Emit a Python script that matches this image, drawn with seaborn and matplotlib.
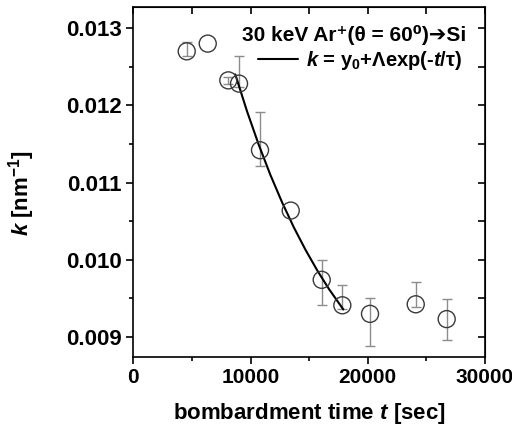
import matplotlib
matplotlib.use("Agg")
import matplotlib.pyplot as plt
import seaborn as sns
import pandas as pd
import numpy as np

t_sec = [4555, 6347, 8104, 9016, 10807, 13426, 16070, 17828, 20190, 24090, 26730]
k_val = [0.01270, 0.01280, 0.012324, 0.012282, 0.011419, 0.010637,
         0.009740, 0.009410, 0.009299, 0.009423, 0.009231]
err_lo = [0.00006, np.nan, 0.00005, 0.00005, 0.00021, np.nan,
          0.00033, 0.00005, 0.00041, 0.00004, 0.00027]
err_hi = [0.00012, np.nan, 0.00005, 0.000355, 0.00049, np.nan,
          0.00026, 0.000266, 0.00021, 0.000295, 0.000256]

# fitted curve k = y0 + A exp(-t/tau)
fit_t = [8700, 9700, 10700, 11700, 12700, 13700, 14700, 15700, 16700, 17913]
fit_k = [0.012401, 0.011923, 0.011489, 0.011096, 0.010740, 0.010417,
         0.010125, 0.009859, 0.009618, 0.009356]

df = pd.DataFrame({"t": t_sec, "k": k_val, "lo": err_lo, "hi": err_hi})
fit = pd.DataFrame({"t": fit_t, "k": fit_k})

sns.set_style("ticks")
plt.rcParams["font.family"] = ["Liberation Sans", "DejaVu Sans"]
plt.rcParams["font.weight"] = "bold"
plt.rcParams["text.color"] = "black"
plt.rcParams["axes.labelcolor"] = "black"
plt.rcParams["xtick.color"] = "black"
plt.rcParams["ytick.color"] = "black"
plt.rcParams["axes.edgecolor"] = "black"
plt.rcParams["mathtext.fontset"] = "custom"
plt.rcParams["mathtext.rm"] = "Liberation Sans:bold"
plt.rcParams["mathtext.bf"] = "Liberation Sans:bold"
plt.rcParams["mathtext.it"] = "Liberation Sans:italic:bold"

fig = plt.figure(figsize=(5.12, 4.32), dpi=100)
ax = fig.add_axes([0.2604, 0.1736, 0.6869, 0.8094])

# error bars
eb = df.dropna()
ax.errorbar(eb["t"], eb["k"], yerr=[eb["lo"], eb["hi"]], fmt="none",
            ecolor="#8c8c8c", elinewidth=1.0, capsize=3.5, capthick=1.0, zorder=2)

# fit line
sns.lineplot(data=fit, x="t", y="k", color="black", linewidth=1.5, ax=ax,
             label=r"$\it{k}$ = y$_0$+Λexp(-$\it{t}$/τ)", zorder=3)

# data circles
sns.scatterplot(data=df, x="t", y="k", marker="o", s=150, facecolors="none",
                edgecolor="#3a3a3a", linewidth=1.0, ax=ax, zorder=4)

ax.set_xlim(0, 30000)
ax.set_ylim(0.00874, 0.01327)
ax.set_xticks([0, 10000, 20000, 30000])
ax.set_xticks([5000, 15000, 25000], minor=True)
ax.set_yticks([0.009, 0.010, 0.011, 0.012, 0.013])
ax.set_yticks([0.0095, 0.0105, 0.0115, 0.0125], minor=True)
ax.set_yticklabels(["0.009", "0.010", "0.011", "0.012", "0.013"])
ax.tick_params(which="major", direction="out", length=5, width=1.2,
               top=False, right=False)
ax.tick_params(axis="y", which="major", labelsize=16)
ax.tick_params(axis="x", which="major", labelsize=15, pad=3)
ax.tick_params(which="minor", direction="out", length=3, width=1.2)
for lab in ax.get_xticklabels() + ax.get_yticklabels():
    lab.set_fontweight("bold")

# inward ticks on top and right
secx = ax.secondary_xaxis("top")
secx.set_xticks([0, 5000, 10000, 15000, 20000, 25000, 30000])
secx.tick_params(direction="in", length=5, width=1.2, labeltop=False)
secy = ax.secondary_yaxis("right")
secy.set_yticks([0.009, 0.0095, 0.010, 0.0105, 0.011, 0.0115, 0.012, 0.0125, 0.013])
secy.tick_params(direction="in", length=5, width=1.2, labelright=False)

for sp in ax.spines.values():
    sp.set_linewidth(1.2)

ax.set_xlabel(r"bombardment time $\it{t}$ [sec]", fontsize=16, fontweight="bold", labelpad=10)
ax.set_ylabel(r"$\it{k}$ [nm$^{-1}$]", fontsize=16, fontweight="bold")
ax.yaxis.set_label_coords(-0.275, 0.47)

ax.text(0.946, 0.905, "30 keV Ar⁺(θ = 60⁰)➔Si",
        transform=ax.transAxes, ha="right", va="baseline", fontsize=15, fontweight="bold",
        family=["Liberation Sans", "DejaVu Sans"])
ax.legend(loc="center right", bbox_to_anchor=(0.935, 0.847), frameon=False,
          fontsize=14.5, handlelength=2.0, handletextpad=0.4,
          borderpad=0, borderaxespad=0)

fig.savefig("out.png", dpi=100)
